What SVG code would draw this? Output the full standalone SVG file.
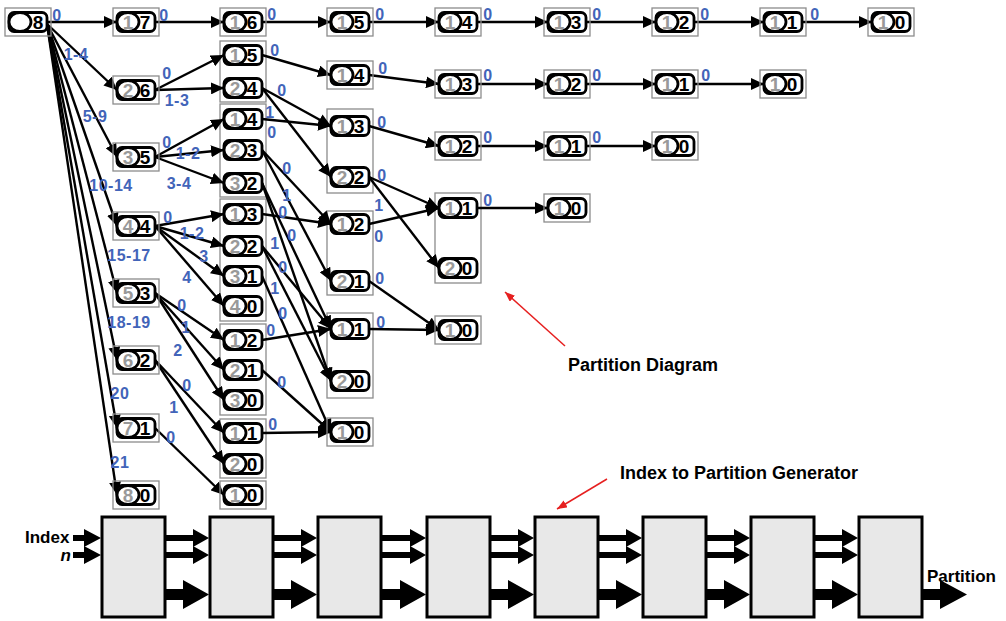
<svg xmlns="http://www.w3.org/2000/svg" width="1006" height="621" viewBox="0 0 1006 621">
<style>
.ob{fill:none;stroke:#8c8c8c;stroke-width:1.3}
.ib{fill:#fff;stroke:#000;stroke-width:2.8}
.el{fill:#fff;stroke:#000;stroke-width:2.8}
.gd{font-family:"Liberation Sans",Arial,sans-serif;font-weight:bold;font-size:19px;fill:#999;text-anchor:middle}
.bd{font-family:"Liberation Sans",Arial,sans-serif;font-weight:bold;font-size:19px;fill:#000;text-anchor:middle}
.lb{font-family:"Liberation Sans",Arial,sans-serif;font-weight:bold;font-size:16px;fill:#4264b9;text-anchor:middle;letter-spacing:0.5px}
.e{stroke:#000;stroke-width:2.4;fill:none;marker-end:url(#ah)}
.re{stroke:#e62020;stroke-width:1.5;fill:none;marker-end:url(#rh)}
.bx{fill:#e8e8e8;stroke:#000;stroke-width:3}
.ar{fill:#000}
.tt{font-family:"Liberation Sans",Arial,sans-serif;font-weight:bold;font-size:18px;fill:#000}
.bt{font-family:"Liberation Sans",Arial,sans-serif;font-weight:bold;font-size:17px;fill:#000}
</style>
<defs>
<marker id="ah" viewBox="0 0 13 12" refX="13" refY="6" markerWidth="13" markerHeight="12" markerUnits="userSpaceOnUse" orient="auto"><path d="M0,0 L13,6 L0,12 z" fill="#000"/></marker>
<marker id="rh" viewBox="0 0 10 8" refX="10" refY="4" markerWidth="10" markerHeight="8" markerUnits="userSpaceOnUse" orient="auto"><path d="M0,0 L10,4 L0,8 z" fill="#e62020"/></marker>
<g id="nd"><rect class="ib" x="4" y="-9.5" width="38" height="19" rx="5"/><ellipse class="el" cx="15" cy="0" rx="11" ry="9.5"/></g>
<rect id="fr" class="ob" x="0" y="-14" width="46" height="28"/>
</defs>

<g id="frames">
<rect class="ob" x="220" y="41" width="46" height="61"/>
<rect class="ob" x="220" y="104" width="46" height="93"/>
<rect class="ob" x="220" y="199" width="46" height="122"/>
<rect class="ob" x="220" y="324" width="46" height="91"/>
<rect class="ob" x="220" y="419" width="46" height="59"/>
<rect class="ob" x="327" y="109" width="46" height="84"/>
<rect class="ob" x="327" y="211" width="46" height="84"/>
<rect class="ob" x="327" y="313" width="46" height="85"/>
<rect class="ob" x="435" y="193" width="46" height="90"/>
</g>

<g id="connectors">
<line class="e" x1="47" y1="22" x2="117" y2="22"/>
<line class="e" x1="47" y1="24" x2="117" y2="90"/>
<line class="e" x1="47" y1="24" x2="117" y2="157"/>
<line class="e" x1="47" y1="24" x2="117" y2="226"/>
<line class="e" x1="47" y1="24" x2="117" y2="293"/>
<line class="e" x1="47" y1="24" x2="117" y2="360"/>
<line class="e" x1="47" y1="24" x2="117" y2="428"/>
<line class="e" x1="47" y1="24" x2="117" y2="495"/>

<line class="e" x1="155" y1="22" x2="224" y2="22"/>
<line class="e" x1="155" y1="90" x2="224" y2="55"/>
<line class="e" x1="155" y1="90" x2="224" y2="88"/>
<line class="e" x1="155" y1="157" x2="224" y2="119"/>
<line class="e" x1="155" y1="157" x2="224" y2="150"/>
<line class="e" x1="155" y1="157" x2="224" y2="183"/>
<line class="e" x1="155" y1="226" x2="224" y2="214"/>
<line class="e" x1="155" y1="226" x2="224" y2="246"/>
<line class="e" x1="155" y1="226" x2="224" y2="276"/>
<line class="e" x1="155" y1="226" x2="224" y2="306"/>
<line class="e" x1="155" y1="293" x2="224" y2="340"/>
<line class="e" x1="155" y1="293" x2="224" y2="370"/>
<line class="e" x1="155" y1="293" x2="224" y2="400"/>
<line class="e" x1="155" y1="360" x2="224" y2="433"/>
<line class="e" x1="155" y1="360" x2="224" y2="464"/>
<line class="e" x1="155" y1="428" x2="224" y2="495"/>

<line class="e" x1="262" y1="22" x2="331" y2="22"/>
<line class="e" x1="262" y1="55" x2="331" y2="75"/>
<line class="e" x1="262" y1="88" x2="331" y2="126"/>
<line class="e" x1="262" y1="88" x2="331" y2="177"/>
<line class="e" x1="262" y1="119" x2="331" y2="126"/>
<line class="e" x1="262" y1="150" x2="331" y2="224"/>
<line class="e" x1="262" y1="150" x2="331" y2="281"/>
<line class="e" x1="262" y1="183" x2="331" y2="329"/>
<line class="e" x1="262" y1="183" x2="331" y2="381"/>
<line class="e" x1="262" y1="214" x2="331" y2="224"/>
<line class="e" x1="262" y1="246" x2="331" y2="329"/>
<line class="e" x1="262" y1="246" x2="331" y2="381"/>
<line class="e" x1="262" y1="276" x2="331" y2="432"/>
<line class="e" x1="262" y1="340" x2="331" y2="329"/>
<line class="e" x1="262" y1="370" x2="331" y2="432"/>
<line class="e" x1="262" y1="433" x2="331" y2="432"/>

<line class="e" x1="369" y1="22" x2="439" y2="22"/>
<line class="e" x1="369" y1="75" x2="439" y2="84"/>
<line class="e" x1="369" y1="126" x2="439" y2="146"/>
<line class="e" x1="369" y1="177" x2="439" y2="208"/>
<line class="e" x1="369" y1="177" x2="439" y2="268"/>
<line class="e" x1="369" y1="224" x2="439" y2="208"/>
<line class="e" x1="369" y1="281" x2="439" y2="330"/>
<line class="e" x1="369" y1="329" x2="439" y2="330"/>

<line class="e" x1="477" y1="22" x2="548" y2="22"/>
<line class="e" x1="477" y1="84" x2="548" y2="84"/>
<line class="e" x1="477" y1="146" x2="548" y2="146"/>
<line class="e" x1="477" y1="208" x2="548" y2="208"/>
<line class="e" x1="586" y1="22" x2="656" y2="22"/>
<line class="e" x1="586" y1="84" x2="656" y2="84"/>
<line class="e" x1="586" y1="146" x2="656" y2="146"/>
<line class="e" x1="694" y1="22" x2="764" y2="22"/>
<line class="e" x1="694" y1="84" x2="764" y2="84"/>
<line class="e" x1="802" y1="22" x2="872" y2="22"/>
</g>

<g id="edge-labels">
<text class="lb" x="57" y="21">0</text>
<text class="lb" x="76" y="60">1-4</text>
<text class="lb" x="95" y="122">5-9</text>
<text class="lb" x="111" y="191">10-14</text>
<text class="lb" x="129" y="261">15-17</text>
<text class="lb" x="129" y="328">18-19</text>
<text class="lb" x="120" y="399">20</text>
<text class="lb" x="120" y="468">21</text>

<text class="lb" x="164" y="21">0</text>
<text class="lb" x="167" y="79">0</text>
<text class="lb" x="177" y="106">1-3</text>
<text class="lb" x="167" y="148">0</text>
<text class="lb" x="188" y="159">1-2</text>
<text class="lb" x="179" y="189">3-4</text>
<text class="lb" x="168" y="223">0</text>
<text class="lb" x="192" y="239">1-2</text>
<text class="lb" x="204" y="262">3</text>
<text class="lb" x="187" y="283">4</text>
<text class="lb" x="182" y="311">0</text>
<text class="lb" x="186" y="333">1</text>
<text class="lb" x="178" y="356">2</text>
<text class="lb" x="187" y="391">0</text>
<text class="lb" x="174" y="413">1</text>
<text class="lb" x="171" y="443">0</text>

<text class="lb" x="272" y="20">0</text>
<text class="lb" x="275" y="56">0</text>
<text class="lb" x="282" y="96">0</text>
<text class="lb" x="270" y="118">1</text>
<text class="lb" x="272" y="138">0</text>
<text class="lb" x="287" y="174">0</text>
<text class="lb" x="287" y="201">1</text>
<text class="lb" x="283" y="218">0</text>
<text class="lb" x="292" y="241">0</text>
<text class="lb" x="275" y="249">1</text>
<text class="lb" x="283" y="273">0</text>
<text class="lb" x="275" y="294">1</text>
<text class="lb" x="283" y="319">0</text>
<text class="lb" x="271" y="336">0</text>
<text class="lb" x="282" y="388">0</text>
<text class="lb" x="273" y="430">0</text>

<text class="lb" x="380" y="20">0</text>
<text class="lb" x="383" y="74">0</text>
<text class="lb" x="382" y="128">0</text>
<text class="lb" x="382" y="181">0</text>
<text class="lb" x="379" y="211">1</text>
<text class="lb" x="379" y="242">0</text>
<text class="lb" x="380" y="284">0</text>
<text class="lb" x="381" y="328">0</text>

<text class="lb" x="488" y="20">0</text>
<text class="lb" x="488" y="81">0</text>
<text class="lb" x="488" y="143">0</text>
<text class="lb" x="488" y="206">0</text>
<text class="lb" x="597" y="20">0</text>
<text class="lb" x="597" y="81">0</text>
<text class="lb" x="597" y="143">0</text>
<text class="lb" x="705" y="20">0</text>
<text class="lb" x="706" y="81">0</text>
<text class="lb" x="815" y="20">0</text>
</g>

<g id="n-root" transform="translate(5,22)"><use href="#fr"/><use href="#nd"/><text class="bd" x="33" y="7">8</text></g>

<g id="c1-1-7" transform="translate(113,22)"><use href="#fr"/><use href="#nd"/><text class="gd" x="15" y="7">1</text><text class="bd" x="32" y="7">7</text></g>
<g id="c1-2-6" transform="translate(113,90)"><use href="#fr"/><use href="#nd"/><text class="gd" x="15" y="7">2</text><text class="bd" x="32" y="7">6</text></g>
<g id="c1-3-5" transform="translate(113,157)"><use href="#fr"/><use href="#nd"/><text class="gd" x="15" y="7">3</text><text class="bd" x="32" y="7">5</text></g>
<g id="c1-4-4" transform="translate(113,226)"><use href="#fr"/><use href="#nd"/><text class="gd" x="15" y="7">4</text><text class="bd" x="32" y="7">4</text></g>
<g id="c1-5-3" transform="translate(113,293)"><use href="#fr"/><use href="#nd"/><text class="gd" x="15" y="7">5</text><text class="bd" x="32" y="7">3</text></g>
<g id="c1-6-2" transform="translate(113,360)"><use href="#fr"/><use href="#nd"/><text class="gd" x="15" y="7">6</text><text class="bd" x="32" y="7">2</text></g>
<g id="c1-7-1" transform="translate(113,428)"><use href="#fr"/><use href="#nd"/><text class="gd" x="15" y="7">7</text><text class="bd" x="32" y="7">1</text></g>
<g id="c1-8-0" transform="translate(113,495)"><use href="#fr"/><use href="#nd"/><text class="gd" x="15" y="7">8</text><text class="bd" x="32" y="7">0</text></g>

<g id="c2-1-6" transform="translate(220,22)"><use href="#fr"/><use href="#nd"/><text class="gd" x="15" y="7">1</text><text class="bd" x="32" y="7">6</text></g>
<g id="c2-1-5" transform="translate(220,55)"><use href="#nd"/><text class="gd" x="15" y="7">1</text><text class="bd" x="32" y="7">5</text></g>
<g id="c2-2-4" transform="translate(220,88)"><use href="#nd"/><text class="gd" x="15" y="7">2</text><text class="bd" x="32" y="7">4</text></g>
<g id="c2-1-4" transform="translate(220,119)"><use href="#nd"/><text class="gd" x="15" y="7">1</text><text class="bd" x="32" y="7">4</text></g>
<g id="c2-2-3" transform="translate(220,150)"><use href="#nd"/><text class="gd" x="15" y="7">2</text><text class="bd" x="32" y="7">3</text></g>
<g id="c2-3-2" transform="translate(220,183)"><use href="#nd"/><text class="gd" x="15" y="7">3</text><text class="bd" x="32" y="7">2</text></g>
<g id="c2-1-3" transform="translate(220,214)"><use href="#nd"/><text class="gd" x="15" y="7">1</text><text class="bd" x="32" y="7">3</text></g>
<g id="c2-2-2" transform="translate(220,246)"><use href="#nd"/><text class="gd" x="15" y="7">2</text><text class="bd" x="32" y="7">2</text></g>
<g id="c2-3-1" transform="translate(220,276)"><use href="#nd"/><text class="gd" x="15" y="7">3</text><text class="bd" x="32" y="7">1</text></g>
<g id="c2-4-0" transform="translate(220,306)"><use href="#nd"/><text class="gd" x="15" y="7">4</text><text class="bd" x="32" y="7">0</text></g>
<g id="c2-1-2" transform="translate(220,340)"><use href="#nd"/><text class="gd" x="15" y="7">1</text><text class="bd" x="32" y="7">2</text></g>
<g id="c2-2-1" transform="translate(220,370)"><use href="#nd"/><text class="gd" x="15" y="7">2</text><text class="bd" x="32" y="7">1</text></g>
<g id="c2-3-0" transform="translate(220,400)"><use href="#nd"/><text class="gd" x="15" y="7">3</text><text class="bd" x="32" y="7">0</text></g>
<g id="c2-1-1" transform="translate(220,433)"><use href="#nd"/><text class="gd" x="15" y="7">1</text><text class="bd" x="32" y="7">1</text></g>
<g id="c2-2-0" transform="translate(220,464)"><use href="#nd"/><text class="gd" x="15" y="7">2</text><text class="bd" x="32" y="7">0</text></g>
<g id="c2-1-0" transform="translate(220,495)"><use href="#fr"/><use href="#nd"/><text class="gd" x="15" y="7">1</text><text class="bd" x="32" y="7">0</text></g>

<g id="c3-1-5" transform="translate(327,22)"><use href="#fr"/><use href="#nd"/><text class="gd" x="15" y="7">1</text><text class="bd" x="32" y="7">5</text></g>
<g id="c3-1-4" transform="translate(327,75)"><use href="#fr"/><use href="#nd"/><text class="gd" x="15" y="7">1</text><text class="bd" x="32" y="7">4</text></g>
<g id="c3-1-3" transform="translate(327,126)"><use href="#nd"/><text class="gd" x="15" y="7">1</text><text class="bd" x="32" y="7">3</text></g>
<g id="c3-2-2" transform="translate(327,177)"><use href="#nd"/><text class="gd" x="15" y="7">2</text><text class="bd" x="32" y="7">2</text></g>
<g id="c3-1-2" transform="translate(327,224)"><use href="#nd"/><text class="gd" x="15" y="7">1</text><text class="bd" x="32" y="7">2</text></g>
<g id="c3-2-1" transform="translate(327,281)"><use href="#nd"/><text class="gd" x="15" y="7">2</text><text class="bd" x="32" y="7">1</text></g>
<g id="c3-1-1" transform="translate(327,329)"><use href="#nd"/><text class="gd" x="15" y="7">1</text><text class="bd" x="32" y="7">1</text></g>
<g id="c3-2-0" transform="translate(327,381)"><use href="#nd"/><text class="gd" x="15" y="7">2</text><text class="bd" x="32" y="7">0</text></g>
<g id="c3-1-0" transform="translate(327,432)"><use href="#fr"/><use href="#nd"/><text class="gd" x="15" y="7">1</text><text class="bd" x="32" y="7">0</text></g>

<g id="c4-1-4" transform="translate(435,22)"><use href="#fr"/><use href="#nd"/><text class="gd" x="15" y="7">1</text><text class="bd" x="32" y="7">4</text></g>
<g id="c4-1-3" transform="translate(435,84)"><use href="#fr"/><use href="#nd"/><text class="gd" x="15" y="7">1</text><text class="bd" x="32" y="7">3</text></g>
<g id="c4-1-2" transform="translate(435,146)"><use href="#fr"/><use href="#nd"/><text class="gd" x="15" y="7">1</text><text class="bd" x="32" y="7">2</text></g>
<g id="c4-1-1" transform="translate(435,208)"><use href="#nd"/><text class="gd" x="15" y="7">1</text><text class="bd" x="32" y="7">1</text></g>
<g id="c4-2-0" transform="translate(435,268)"><use href="#nd"/><text class="gd" x="15" y="7">2</text><text class="bd" x="32" y="7">0</text></g>
<g id="c4-1-0" transform="translate(435,330)"><use href="#fr"/><use href="#nd"/><text class="gd" x="15" y="7">1</text><text class="bd" x="32" y="7">0</text></g>

<g id="c5-1-3" transform="translate(544,22)"><use href="#fr"/><use href="#nd"/><text class="gd" x="15" y="7">1</text><text class="bd" x="32" y="7">3</text></g>
<g id="c5-1-2" transform="translate(544,84)"><use href="#fr"/><use href="#nd"/><text class="gd" x="15" y="7">1</text><text class="bd" x="32" y="7">2</text></g>
<g id="c5-1-1" transform="translate(544,146)"><use href="#fr"/><use href="#nd"/><text class="gd" x="15" y="7">1</text><text class="bd" x="32" y="7">1</text></g>
<g id="c5-1-0" transform="translate(544,208)"><use href="#fr"/><use href="#nd"/><text class="gd" x="15" y="7">1</text><text class="bd" x="32" y="7">0</text></g>

<g id="c6-1-2" transform="translate(652,22)"><use href="#fr"/><use href="#nd"/><text class="gd" x="15" y="7">1</text><text class="bd" x="32" y="7">2</text></g>
<g id="c6-1-1" transform="translate(652,84)"><use href="#fr"/><use href="#nd"/><text class="gd" x="15" y="7">1</text><text class="bd" x="32" y="7">1</text></g>
<g id="c6-1-0" transform="translate(652,146)"><use href="#fr"/><use href="#nd"/><text class="gd" x="15" y="7">1</text><text class="bd" x="32" y="7">0</text></g>

<g id="c7-1-1" transform="translate(760,22)"><use href="#fr"/><use href="#nd"/><text class="gd" x="15" y="7">1</text><text class="bd" x="32" y="7">1</text></g>
<g id="c7-1-0" transform="translate(760,84)"><use href="#fr"/><use href="#nd"/><text class="gd" x="15" y="7">1</text><text class="bd" x="32" y="7">0</text></g>

<g id="c8-1-0" transform="translate(868,22)"><use href="#fr"/><use href="#nd"/><text class="gd" x="15" y="7">1</text><text class="bd" x="32" y="7">0</text></g>

<g id="annotations">
<text class="tt" x="568" y="371">Partition Diagram</text>
<line class="re" x1="565" y1="346" x2="505" y2="292"/>
<text class="tt" x="620" y="479">Index to Partition Generator</text>
<line class="re" x1="607" y1="479" x2="557" y2="509"/>
</g>

<g id="generator">
<rect class="bx" x="102" y="517" width="63" height="100"/>
<rect class="bx" x="210" y="517" width="63" height="100"/>
<rect class="bx" x="318" y="517" width="63" height="100"/>
<rect class="bx" x="427" y="517" width="63" height="100"/>
<rect class="bx" x="535" y="517" width="63" height="100"/>
<rect class="bx" x="643" y="517" width="63" height="100"/>
<rect class="bx" x="751" y="517" width="63" height="100"/>
<rect class="bx" x="859" y="517" width="63" height="100"/>
</g>

<g id="bus-arrows">
<polygon class="ar" points="73,535 84,535 84,529 101,538 84,547 84,541 73,541"/>
<polygon class="ar" points="73,552 84,552 84,546 101,555 84,564 84,558 73,558"/>
<polygon class="ar" points="166,535 193,535 193,529 209,538 193,547 193,541 166,541"/>
<polygon class="ar" points="166,552 193,552 193,546 209,555 193,564 193,558 166,558"/>
<polygon class="ar" points="166,589 183,589 183,580 209,594.5 183,609 183,600 166,600"/>
<polygon class="ar" points="274,535 301,535 301,529 317,538 301,547 301,541 274,541"/>
<polygon class="ar" points="274,552 301,552 301,546 317,555 301,564 301,558 274,558"/>
<polygon class="ar" points="274,589 291,589 291,580 317,594.5 291,609 291,600 274,600"/>
<polygon class="ar" points="382,535 410,535 410,529 426,538 410,547 410,541 382,541"/>
<polygon class="ar" points="382,552 410,552 410,546 426,555 410,564 410,558 382,558"/>
<polygon class="ar" points="382,589 400,589 400,580 426,594.5 400,609 400,600 382,600"/>
<polygon class="ar" points="491,535 518,535 518,529 534,538 518,547 518,541 491,541"/>
<polygon class="ar" points="491,552 518,552 518,546 534,555 518,564 518,558 491,558"/>
<polygon class="ar" points="491,589 508,589 508,580 534,594.5 508,609 508,600 491,600"/>
<polygon class="ar" points="599,535 626,535 626,529 642,538 626,547 626,541 599,541"/>
<polygon class="ar" points="599,552 626,552 626,546 642,555 626,564 626,558 599,558"/>
<polygon class="ar" points="599,589 616,589 616,580 642,594.5 616,609 616,600 599,600"/>
<polygon class="ar" points="707,535 734,535 734,529 750,538 734,547 734,541 707,541"/>
<polygon class="ar" points="707,552 734,552 734,546 750,555 734,564 734,558 707,558"/>
<polygon class="ar" points="707,589 724,589 724,580 750,594.5 724,609 724,600 707,600"/>
<polygon class="ar" points="815,535 842,535 842,529 858,538 842,547 842,541 815,541"/>
<polygon class="ar" points="815,552 842,552 842,546 858,555 842,564 842,558 815,558"/>
<polygon class="ar" points="815,589 832,589 832,580 858,594.5 832,609 832,600 815,600"/>
<polygon class="ar" points="923,589 940,589 940,580 967,594.5 940,609 940,600 923,600"/>
</g>

<g id="io-labels">
<text class="bt" x="25" y="543">Index</text>
<text class="bt" x="71" y="561" text-anchor="end" font-style="italic" font-size="16">n</text>
<text class="bt" x="927" y="582">Partition</text>
</g>
</svg>
